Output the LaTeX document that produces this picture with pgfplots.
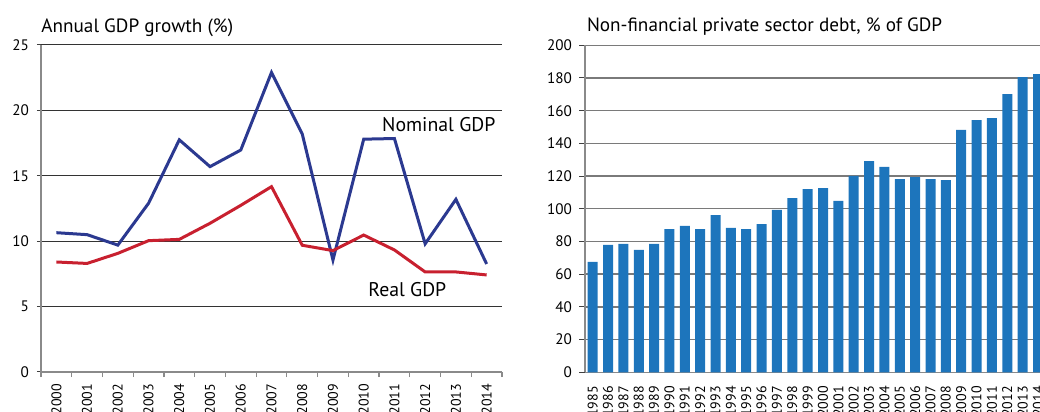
\documentclass[border=0pt]{standalone}
\usepackage{pgfplots}
\pgfplotsset{compat=1.18}
\usepackage{fontspec}
\setmainfont{PT Sans}

\definecolor{nomblue}{HTML}{2B3990}
\definecolor{realred}{HTML}{C8202F}
\definecolor{barblue}{HTML}{1D75BC}
\definecolor{gridgray}{HTML}{7A7A7A}
\definecolor{axisgray}{HTML}{8A8A8A}

\pgfplotsset{
  common/.style={
    scale only axis,
    anchor=south west,
    axis x line*=bottom,
    axis y line*=left,
    tick align=outside,
    /pgf/number format/assume math mode=true,
    ymajorgrids=true,
    tick label style={font=\fontsize{7.6}{8}\selectfont, text=black},
    xticklabel style={font=\fontsize{7}{8}\selectfont, rotate=90, anchor=east, xshift=-0.5pt},
    axis line style={axisgray, line width=0.6pt},
    clip=false,
  },
}

\begin{document}
\begin{tikzpicture}
% left: annual GDP growth
\begin{axis}[
    common,
    at={(20.5pt,20pt)},
    width=230.5pt, height=163.5pt,
    xmin=-0.5, xmax=14.5,
    ymin=0, ymax=25,
    ytick={0,5,10,15,20,25},
    xtick={0,...,14},
    xticklabels={2000,2001,2002,2003,2004,2005,2006,2007,2008,2009,2010,2011,2012,2013,2014},
    minor xtick={-0.5,0.5,...,14.5},
    major x tick style={draw=none},
    minor x tick style={axisgray, line width=0.6pt},
    minor tick length=2.6pt,
    major tick length=2pt,
    y tick style={black!75, line width=0.5pt},
    yticklabel style={xshift=-0.5pt},
    grid style={black!80, line width=0.5pt},
]
\addplot[nomblue, line width=1.5pt] coordinates {
(0,10.65)(1,10.5)(2,9.7)(3,12.9)(4,17.75)(5,15.7)(6,16.97)(7,22.9)(8,18.2)(9,8.56)(10,17.8)(11,17.85)(12,9.8)(13,13.2)(14,8.26)
};
\addplot[realred, line width=1.5pt] coordinates {
(0,8.41)(1,8.3)(2,9.07)(3,10.04)(4,10.14)(5,11.37)(6,12.74)(7,14.17)(8,9.69)(9,9.28)(10,10.47)(11,9.33)(12,7.65)(13,7.65)(14,7.42)
};
\node[anchor=base west, font=\fontsize{9.9}{10}\selectfont, inner sep=0pt] at (axis cs:10.59,18.37) {Nominal GDP};
\node[anchor=base west, font=\fontsize{9.9}{10}\selectfont, inner sep=0pt] at (axis cs:10.14,5.76) {Real GDP};
\end{axis}
\node[anchor=base west, font=\fontsize{9.6}{10}\selectfont, inner sep=0pt] at (20.5pt,189.85pt) {Annual GDP growth (\%)};

% right: private sector debt
\begin{axis}[
    common,
    at={(292.5pt,19.85pt)},
    width=230.35pt, height=163.5pt,
    xmin=1984.5, xmax=2014.5,
    ymin=0, ymax=200,
    ytick={0,20,...,200},
    xtick={1985,...,2014},
    /pgf/number format/1000 sep={},
    major x tick style={draw=none},
    extra x ticks={1984.5},
    extra x tick labels={},
    extra x tick style={major x tick style={axisgray, line width=0.6pt}, major tick length=3pt},
    y tick style={black!75, line width=0.5pt},
    major tick length=3pt,
    grid style={gridgray, line width=0.7pt},
]
\addplot[ybar, bar width=5pt, fill=barblue, draw=none] coordinates {
(1985,67.5)(1986,77.9)(1987,78.5)(1988,74.8)(1989,78.5)(1990,87.6)(1991,89.5)(1992,87.6)(1993,96.2)(1994,88.3)
(1995,87.6)(1996,90.7)(1997,99.3)(1998,106.6)(1999,112.1)(2000,112.7)(2001,104.8)(2002,120.1)(2003,129.2)(2004,125.6)
(2005,118.2)(2006,119.4)(2007,118.2)(2008,117.6)(2009,148.2)(2010,154.3)(2011,155.5)(2012,170.2)(2013,180.6)(2014,182.4)
};
\end{axis}
\node[anchor=base west, font=\fontsize{9.6}{10}\selectfont, inner sep=0pt] at (293.3pt,190pt) {Non-financial private sector debt, \% of GDP};

\pgfresetboundingbox
\useasboundingbox (0,0) rectangle (520pt,206pt);
\end{tikzpicture}
\end{document}
